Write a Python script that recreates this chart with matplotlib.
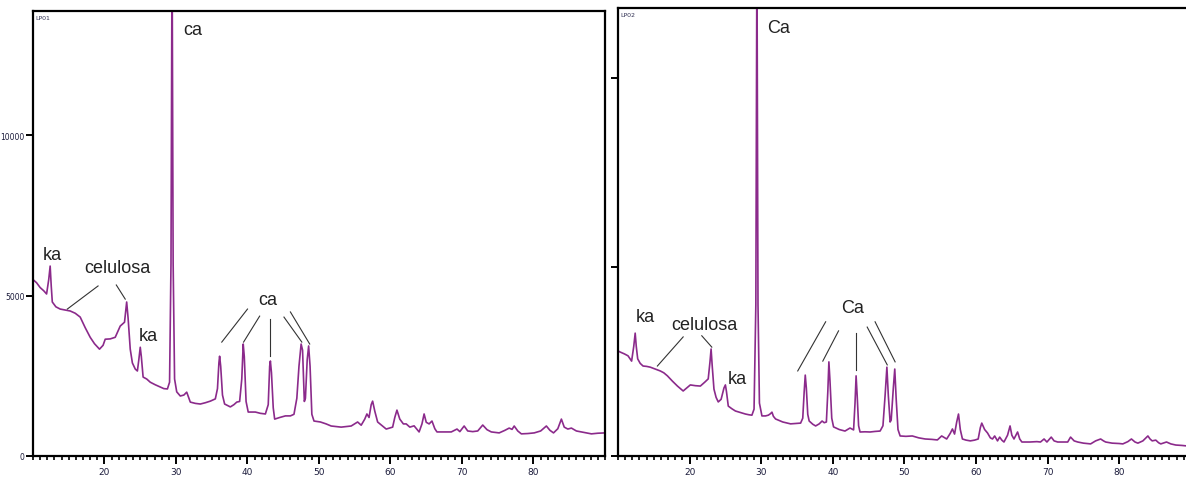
import matplotlib
matplotlib.use('Agg')
import matplotlib.pyplot as plt
from matplotlib.ticker import MultipleLocator

# LP01 diffractogram (2theta, counts)
lp01_x = [10.0, 10.5, 11.0, 11.5, 11.9, 12.2, 12.4, 12.55, 12.7, 13.2, 13.8, 14.5, 15.2, 15.9,
          16.6, 17.3, 18.0, 18.6, 19.3, 19.8, 20.1, 20.8, 21.5, 22.2, 22.8, 22.95, 23.1, 23.3,
          23.6, 23.9, 24.3, 24.6, 24.8, 25.0, 25.15, 25.4, 25.9, 26.4, 27.1, 27.8, 28.3, 28.8,
          29.1, 29.3, 29.45, 29.6, 29.8, 30.1, 30.6, 31.1, 31.5, 32.0, 32.7, 33.4, 34.1, 34.8,
          35.5, 35.8, 36.0, 36.1, 36.25, 36.5, 36.8, 37.6, 38.1, 38.5, 38.9, 39.2, 39.4, 39.55,
          39.8, 40.1, 41.1, 41.8, 42.5, 42.9, 43.1, 43.2, 43.35, 43.6, 43.8, 44.5, 45.3, 46.0,
          46.5, 46.9, 47.2, 47.5, 47.7, 47.95, 48.1, 48.35, 48.55, 48.75, 49.0, 49.3, 50.2, 51.0,
          51.7, 53.1, 54.5, 55.4, 55.9, 56.4, 56.7, 57.0, 57.3, 57.5, 57.8, 58.2, 58.8, 59.4,
          60.3, 60.6, 60.9, 61.3, 61.8, 62.2, 62.7, 63.3, 64.0, 64.4, 64.7, 65.0, 65.4, 65.8,
          66.2, 66.5, 67.5, 68.5, 69.3, 69.7, 70.3, 70.8, 71.5, 72.2, 72.9, 73.5, 74.1, 75.2,
          76.0, 76.6, 77.0, 77.3, 77.8, 78.3, 79.2, 80.1, 81.0, 81.8, 82.3, 82.8, 83.4, 83.9,
          84.3, 84.8, 85.3, 86.0, 86.7, 87.4, 88.1, 89.0, 90.0]
lp01_y = [5500, 5400, 5250, 5150, 5050, 5500, 5920, 5300, 4800, 4650, 4580, 4550, 4520, 4450,
          4330, 4000, 3700, 3500, 3330, 3450, 3640, 3650, 3700, 4050, 4170, 4500, 4800, 4300,
          3330, 2900, 2710, 2650, 3000, 3390, 3100, 2460, 2400, 2300, 2220, 2150, 2100, 2090,
          2300, 6000, 16000, 6000, 2400, 2000, 1870, 1900, 1990, 1680, 1640, 1620, 1660, 1710,
          1780, 2100, 2900, 3110, 2800, 1900, 1620, 1530, 1600, 1680, 1700, 2400, 3490, 3100,
          1700, 1370, 1370, 1330, 1310, 1600, 2800, 2960, 2600, 1500, 1150, 1200, 1250, 1250,
          1300, 1800, 2800, 3490, 3300, 1700, 1800, 3000, 3430, 2800, 1300, 1090, 1060, 1000,
          935, 900, 935, 1060, 960, 1150, 1310, 1200, 1600, 1710, 1400, 1060, 950, 840,
          900, 1200, 1430, 1150, 1000, 1000, 900, 940, 750, 1000, 1310, 1050, 1000, 1090,
          850, 750, 750, 750, 840, 760, 935, 780, 760, 780, 965, 820, 750, 720,
          800, 870, 830, 935, 780, 690, 700, 720, 780, 935, 800, 720, 850, 1150,
          900, 840, 870, 780, 750, 720, 690, 710, 720]

# LP02 diffractogram
lp02_x = [10.0, 10.3, 10.9, 11.4, 11.9, 12.2, 12.4, 12.55, 12.75, 13.1, 13.5, 14.0, 14.5, 15.2,
          15.9, 16.4, 16.9, 17.6, 18.3, 19.1, 19.6, 20.1, 20.8, 21.5, 22.1, 22.6, 22.85, 23.0,
          23.15, 23.4, 23.7, 24.0, 24.4, 24.8, 25.0, 25.15, 25.4, 25.9, 26.4, 27.1, 27.8, 28.3,
          28.7, 29.0, 29.25, 29.4, 29.55, 29.75, 30.1, 30.6, 31.0, 31.3, 31.5, 31.7, 32.0, 33.0,
          34.1, 34.8, 35.5, 35.8, 36.0, 36.15, 36.3, 36.5, 36.7, 37.2, 37.6, 38.1, 38.5, 38.8,
          39.1, 39.3, 39.45, 39.6, 39.85, 40.1, 40.9, 41.7, 42.4, 42.9, 43.1, 43.25, 43.4, 43.6,
          43.8, 44.5, 45.2, 45.9, 46.6, 47.0, 47.3, 47.55, 47.75, 48.0, 48.15, 48.45, 48.65, 48.85,
          49.1, 49.4, 50.2, 51.1, 52.0, 52.9, 53.8, 54.6, 55.2, 55.9, 56.4, 56.7, 57.0, 57.3,
          57.55, 57.8, 58.1, 58.6, 59.2, 59.8, 60.3, 60.6, 60.8, 61.2, 61.6, 62.0, 62.3, 62.6,
          63.0, 63.3, 63.6, 63.9, 64.4, 64.75, 65.0, 65.3, 65.8, 66.1, 66.4, 67.5, 68.5, 69.0,
          69.5, 69.9, 70.5, 70.9, 71.4, 72.0, 72.8, 73.2, 73.7, 74.2, 75.0, 76.0, 76.7, 77.4,
          77.8, 78.1, 79.0, 80.0, 80.5, 81.2, 81.7, 82.2, 82.6, 83.3, 84.0, 84.3, 84.6, 85.1,
          85.5, 85.8, 86.6, 87.2, 87.9, 88.7, 89.5]
lp02_y = [2780, 2750, 2700, 2650, 2510, 2900, 3250, 2900, 2570, 2450, 2380, 2370, 2350, 2300,
          2250, 2200, 2120, 1980, 1850, 1720, 1800, 1880, 1860, 1850, 1950, 2040, 2500, 2830,
          2400, 1770, 1550, 1430, 1500, 1800, 1880, 1700, 1320, 1250, 1190, 1150, 1110, 1090,
          1080, 1240, 4000, 13500, 4000, 1400, 1060, 1060, 1080, 1120, 1160, 1050, 980, 900,
          850, 860, 870, 1000, 1700, 2140, 1800, 1100, 925, 840, 795, 850, 925, 880,
          900, 1700, 2490, 2000, 1000, 770, 700, 660, 740, 690, 1400, 2120, 1600, 800,
          635, 640, 635, 650, 660, 800, 1600, 2350, 1600, 900, 950, 1800, 2300, 1500,
          700, 530, 520, 530, 480, 450, 440, 425, 530, 450, 600, 715, 580, 900,
          1110, 700, 450, 420, 400, 420, 450, 750, 870, 700, 610, 480, 450, 530,
          400, 500, 420, 370, 550, 795, 550, 450, 635, 450, 370, 370, 380, 370,
          450, 370, 500, 400, 370, 370, 370, 500, 400, 370, 340, 320, 400, 450,
          400, 370, 340, 330, 320, 380, 450, 370, 340, 400, 530, 450, 400, 420,
          350, 320, 370, 320, 290, 280, 265]

# annotations: (text, x, y)
lp01_labels = [('ka', 12.7, 6290), ('celulosa', 21.8, 5890), ('ka', 26.1, 3770),
               ('ca', 32.4, 13300), ('ca', 42.8, 4890)]
lp01_lines = [((19.1, 5300), (14.8, 4580)), ((21.65, 5330), (22.9, 4890)),
              ((40.0, 4580), (36.4, 3550)), ((41.7, 4360), (39.45, 3550)),
              ((43.2, 4270), (43.2, 3110)), ((45.1, 4330), (47.6, 3550)),
              ((46.0, 4490), (48.7, 3490))]
lp02_labels = [('ka', 13.8, 3680), ('celulosa', 22.0, 3490), ('ka', 26.6, 2060),
               ('Ca', 32.4, 11330), ('Ca', 42.7, 3920)]
lp02_lines = [((19.1, 3150), (15.5, 2380)), ((21.7, 3180), (23.1, 2880)),
              ((39.0, 3550), (35.1, 2250)), ((40.8, 3310), (38.6, 2510)),
              ((43.3, 3250), (43.3, 2280)), ((44.8, 3410), (47.6, 2410)),
              ((45.9, 3550), (48.7, 2490))]
xtick_vals = [20, 30, 40, 50, 60, 70, 80]

line_color = '#8b2a8b'
tick_color = '#1c1c3c'

fig = plt.figure(figsize=(11.86, 4.81), dpi=100)
ax1 = fig.add_axes([33 / 1186, 1 - 457 / 481, 572 / 1186, 445 / 481])
ax2 = fig.add_axes([618 / 1186, 1 - 457 / 481, 570 / 1186, 448 / 481])


def style_axis(ax, xlim, ylim, name, ylabels):
    ax.set_xlim(*xlim)
    ax.set_ylim(*ylim)
    for s in ax.spines.values():
        s.set_linewidth(1.6)
        s.set_color('black')
    ax.set_xticks(xtick_vals)
    ax.xaxis.set_minor_locator(MultipleLocator(1))
    ax.set_yticks([0, 5000, 10000])
    if not ylabels:
        ax.set_yticklabels([])
    ax.tick_params(axis='x', which='major', direction='out', length=6, width=1.4,
                   labelsize=6.5, colors='black', labelcolor=tick_color, pad=2)
    ax.tick_params(axis='x', which='minor', direction='out', length=3, width=1.2)
    ax.tick_params(axis='y', direction='out', length=5, width=1.4, labelsize=5.5,
                   labelcolor=tick_color, pad=1)
    ax.text(0.004, 0.992, name, transform=ax.transAxes, fontsize=4.5, color='#333355',
            ha='left', va='top')


ax1.plot(lp01_x, lp01_y, color=line_color, lw=1.2)
style_axis(ax1, (10, 90), (0, 13870), 'LP01', True)
for t, x, y in lp01_labels:
    ax1.text(x, y, t, fontsize=13, family='Liberation Sans', ha='center', va='center',
             color='#222222')
for (x0, y0), (x1, y1) in lp01_lines:
    ax1.plot([x0, x1], [y0, y1], color='#333333', lw=0.8)

ax2.plot(lp02_x, lp02_y, color=line_color, lw=1.2)
style_axis(ax2, (10, 89.6), (0, 11850), 'LP02', False)
ax2.spines['right'].set_visible(False)
for t, x, y in lp02_labels:
    ax2.text(x, y, t, fontsize=13, family='Liberation Sans', ha='center', va='center',
             color='#222222')
for (x0, y0), (x1, y1) in lp02_lines:
    ax2.plot([x0, x1], [y0, y1], color='#333333', lw=0.8)

fig.savefig('out.png', dpi=100)
